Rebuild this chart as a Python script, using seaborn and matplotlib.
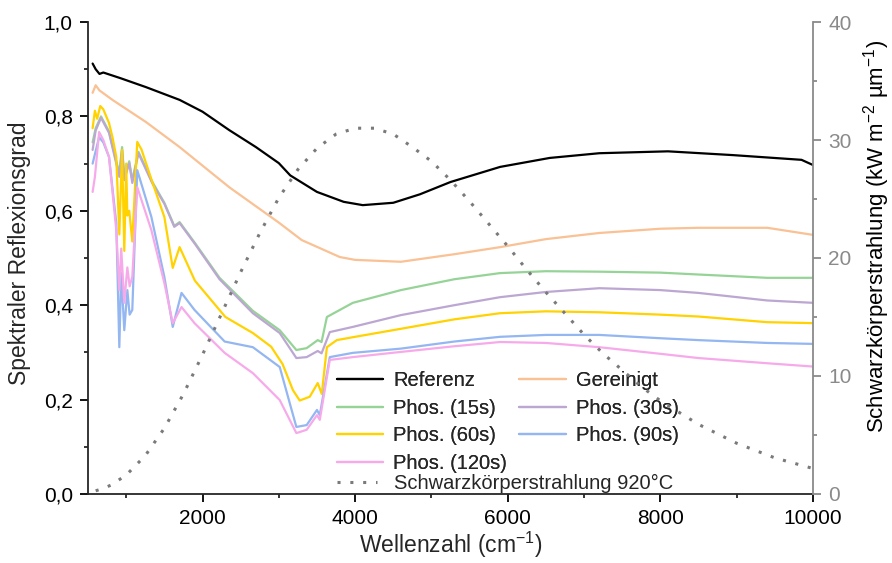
import numpy as np
import pandas as pd
import matplotlib
matplotlib.use("Agg")
import matplotlib.pyplot as plt
import seaborn as sns

# ---- spectral reflectance (wavenumber in cm^-1) ----
ref_x = [560, 600, 650, 700, 925, 1260, 1700, 2000, 2350, 2700, 3000, 3150, 3500, 3850, 4100,
         4500, 4850, 5250, 5900, 6550, 7200, 8100, 8950, 9850, 10000]
ref_y = [0.912, 0.900, 0.890, 0.893, 0.881, 0.862, 0.835, 0.810, 0.771, 0.735, 0.701, 0.675, 0.640,
         0.619, 0.612, 0.617, 0.635, 0.661, 0.693, 0.712, 0.722, 0.726, 0.718, 0.708, 0.697]

ger_x = [560, 600, 650, 820, 1260, 1700, 2350, 3000, 3300, 3800, 4000, 4600, 5300, 5900, 6500,
         7200, 8000, 8500, 9400, 10000]
ger_y = [0.850, 0.866, 0.855, 0.835, 0.788, 0.735, 0.650, 0.575, 0.538, 0.502, 0.496, 0.492,
         0.508, 0.523, 0.540, 0.553, 0.562, 0.564, 0.564, 0.549]

p15_x = [560, 600, 670, 775, 870, 910, 946, 975, 1040, 1080, 1160, 1340, 1500, 1630, 1700, 1900,
         2223, 2660, 3012, 3230, 3365, 3510, 3560, 3630, 3970, 4600, 5300, 5900, 6500, 7200, 8000,
         8500, 9400, 10000]
p15_y = [0.745, 0.775, 0.800, 0.768, 0.705, 0.680, 0.735, 0.672, 0.705, 0.665, 0.725, 0.662, 0.617,
         0.568, 0.576, 0.532, 0.458, 0.388, 0.347, 0.305, 0.309, 0.326, 0.322, 0.375, 0.405, 0.432,
         0.455, 0.468, 0.472, 0.471, 0.469, 0.465, 0.458, 0.458]

p30_x = [560, 600, 670, 775, 870, 910, 946, 975, 1040, 1080, 1160, 1340, 1500, 1630, 1700, 1900,
         2223, 2660, 3012, 3230, 3365, 3510, 3560, 3668, 3970, 4600, 5300, 5900, 6500, 7200, 8000,
         8500, 9400, 10000]
p30_y = [0.729, 0.770, 0.797, 0.765, 0.700, 0.672, 0.729, 0.665, 0.701, 0.659, 0.722, 0.659, 0.615,
         0.566, 0.574, 0.530, 0.455, 0.383, 0.341, 0.288, 0.290, 0.303, 0.298, 0.343, 0.354, 0.379,
         0.400, 0.417, 0.428, 0.436, 0.432, 0.426, 0.410, 0.405]

p60_x = [560, 590, 620, 660, 700, 775, 820, 870, 910, 946, 975, 1000, 1015, 1040, 1080, 1145, 1200,
         1340, 1500, 1610, 1700, 1900, 2300, 2660, 2900, 3050, 3185, 3274, 3405, 3510, 3563, 3630,
         3760, 4000, 4600, 5300, 5900, 6500, 7200, 8000, 8500, 9400, 10000]
p60_y = [0.775, 0.812, 0.795, 0.822, 0.815, 0.786, 0.756, 0.714, 0.550, 0.729, 0.515, 0.700, 0.590,
         0.600, 0.535, 0.746, 0.730, 0.662, 0.587, 0.479, 0.523, 0.452, 0.375, 0.341, 0.312, 0.275,
         0.220, 0.198, 0.206, 0.235, 0.212, 0.311, 0.326, 0.333, 0.350, 0.370, 0.383, 0.387, 0.385,
         0.380, 0.376, 0.364, 0.362]

p90_x = [560, 590, 645, 700, 775, 870, 910, 935, 975, 1015, 1045, 1080, 1145, 1330, 1500, 1610,
         1725, 1895, 2290, 2660, 3012, 3230, 3365, 3500, 3537, 3668, 3970, 4600, 5300, 5900, 6500,
         7200, 8000, 8500, 9400, 10000]
p90_y = [0.700, 0.720, 0.756, 0.745, 0.714, 0.574, 0.311, 0.468, 0.347, 0.432, 0.380, 0.390, 0.686,
         0.587, 0.460, 0.354, 0.426, 0.390, 0.323, 0.311, 0.269, 0.142, 0.146, 0.178, 0.167, 0.290,
         0.299, 0.308, 0.323, 0.333, 0.337, 0.337, 0.330, 0.326, 0.320, 0.318]

p120_x = [560, 590, 645, 700, 775, 870, 910, 935, 975, 1015, 1045, 1080, 1145, 1330, 1500, 1610,
          1725, 1895, 2290, 2660, 3012, 3230, 3365, 3500, 3537, 3668, 3970, 4600, 5300, 5900, 6500,
          7200, 8000, 8500, 9400, 10000]
p120_y = [0.640, 0.672, 0.767, 0.750, 0.714, 0.559, 0.432, 0.520, 0.405, 0.480, 0.440, 0.460, 0.650,
          0.559, 0.447, 0.362, 0.396, 0.362, 0.299, 0.256, 0.199, 0.129, 0.136, 0.167, 0.157, 0.284,
          0.290, 0.301, 0.313, 0.322, 0.320, 0.311, 0.297, 0.288, 0.277, 0.270]

# ---- black-body spectral exitance at 920 °C (kW m^-2 µm^-1) ----
bb_x = [600, 700, 800, 1000, 1250, 1500, 1750, 2000, 2250, 2500, 2750, 3000, 3250, 3500, 3750,
        4000, 4250, 4500, 4750, 5000, 5250, 5500, 5750, 6000, 6250, 6500, 6750, 7000, 7250, 7500,
        7750, 8000, 8500, 9000, 9500, 10000]
bb_y = [0.27, 0.47, 0.75, 1.60, 3.25, 5.57, 8.47, 11.8, 15.3, 18.8, 22.1, 25.1, 27.5, 29.3, 30.5,
        31.0, 31.0, 30.5, 29.4, 28.2, 26.6, 24.8, 22.9, 21.0, 19.0, 17.1, 15.3, 13.5, 11.9, 10.5,
        9.1, 7.9, 5.9, 4.3, 3.06, 2.16]

labels = ["Referenz", "Gereinigt", "Phos. (15s)", "Phos. (30s)",
          "Phos. (60s)", "Phos. (90s)", "Phos. (120s)"]
colors = ["#000000", "#F9C194", "#96D397", "#BCA7D2", "#FFD200", "#94B6F1", "#F7AAEA"]
series = [(ref_x, ref_y), (ger_x, ger_y), (p15_x, p15_y), (p30_x, p30_y),
          (p60_x, p60_y), (p90_x, p90_y), (p120_x, p120_y)]

frames = []
for lab, (xs, ys) in zip(labels, series):
    frames.append(pd.DataFrame({"Wellenzahl": xs, "R": ys, "Probe": lab}))
df = pd.concat(frames, ignore_index=True)
bb = pd.DataFrame({"Wellenzahl": bb_x, "M": bb_y})

sns.set_theme(style="ticks")
plt.rcParams["font.family"] = ["Liberation Sans", "DejaVu Sans"]
plt.rcParams["mathtext.fontset"] = "custom"
plt.rcParams["mathtext.rm"] = "Liberation Sans"
plt.rcParams["mathtext.it"] = "Liberation Sans"
plt.rcParams["mathtext.default"] = "regular"

fig = plt.figure(figsize=(8.92, 5.63), dpi=100)
ax = fig.add_axes([0.0987, 0.1226, 0.8127, 0.8383])
ax2 = ax.twinx()

sns.lineplot(data=df, x="Wellenzahl", y="R", hue="Probe", hue_order=labels,
             palette=dict(zip(labels, colors)), estimator=None, sort=False,
             linewidth=1.6, ax=ax)
sns.lineplot(data=bb, x="Wellenzahl", y="M", color="#7A7A7A", linewidth=2.2,
             linestyle=(0, (1.0, 3.2)), ax=ax2, label="Schwarzkörperstrahlung 920°C")

fs_tick = 15
fs_label = 16.5
fs_leg = 14.5
ax.set_xlim(500, 10000)
ax.set_ylim(0, 1.0)
ax2.set_ylim(0, 40)
ax.set_xticks([2000, 4000, 6000, 8000, 10000])
ax.set_xticks(np.arange(1000, 10000, 1000), minor=True)
ax.set_yticks(np.arange(0, 1.01, 0.2))
ax.set_yticklabels([f"{v:.1f}".replace(".", ",") for v in np.arange(0, 1.01, 0.2)])
ax.set_yticks(np.arange(0.1, 1.0, 0.2), minor=True)
ax2.set_yticks([0, 10, 20, 30, 40])
ax2.set_yticks([5, 15, 25, 35], minor=True)

ax.tick_params(axis="both", which="major", direction="out", length=6, width=1.3,
               labelsize=fs_tick, colors="black", pad=5)
ax.tick_params(axis="both", which="minor", direction="out", length=3, width=1.3)
grey = "#8A8A8A"
ax2.tick_params(axis="y", which="major", direction="out", length=6, width=1.3,
                labelsize=fs_tick, colors=grey, pad=5)
ax2.tick_params(axis="y", which="minor", direction="out", length=3, width=1.3, colors=grey)

for a in (ax, ax2):
    a.spines["top"].set_visible(False)
    for s in a.spines.values():
        s.set_linewidth(1.3)
ax.spines["right"].set_visible(False)
ax2.spines["left"].set_visible(False)
ax2.spines["bottom"].set_visible(False)
ax2.spines["right"].set_color(grey)

ax.set_xlabel("Wellenzahl (cm$^{-1}$)", fontsize=fs_label, labelpad=1)
ax.set_ylabel("Spektraler Reflexionsgrad", fontsize=fs_label)
ax2.set_ylabel("Schwarzkörperstrahlung (kW m$^{-2}$ µm$^{-1}$)", fontsize=16,
               color="black")
ax.yaxis.set_label_coords(-0.078, 0.51)
ax2.yaxis.set_label_coords(1.066, 0.545)

# legend entries laid out row-wise: Referenz | Gereinigt, 15s | 30s, 60s | 90s, 120s
handles, labs = ax.get_legend_handles_labels()
if ax.get_legend():
    ax.get_legend().remove()
order = [0, 2, 4, 6, 1, 3, 5]
leg1 = ax.legend([handles[i] for i in order], [labs[i] for i in order], ncol=2,
                 frameon=False, fontsize=fs_leg, loc="upper left",
                 bbox_to_anchor=(337 / 892, 1 - 371 / 563),
                 bbox_transform=fig.transFigure, borderaxespad=0, borderpad=0,
                 handlelength=2.3, handletextpad=0.5, columnspacing=0.6,
                 labelspacing=0.43)
ax.add_artist(leg1)
h2, l2 = ax2.get_legend_handles_labels()
if ax2.get_legend():
    ax2.get_legend().remove()
ax2.legend(h2, l2, frameon=False, fontsize=fs_leg, loc="upper left",
           bbox_to_anchor=(337 / 892, 1 - 474 / 563), bbox_transform=fig.transFigure,
           borderaxespad=0, borderpad=0, handlelength=2.0, handletextpad=0.85)

fig.savefig("out.png", dpi=100)
